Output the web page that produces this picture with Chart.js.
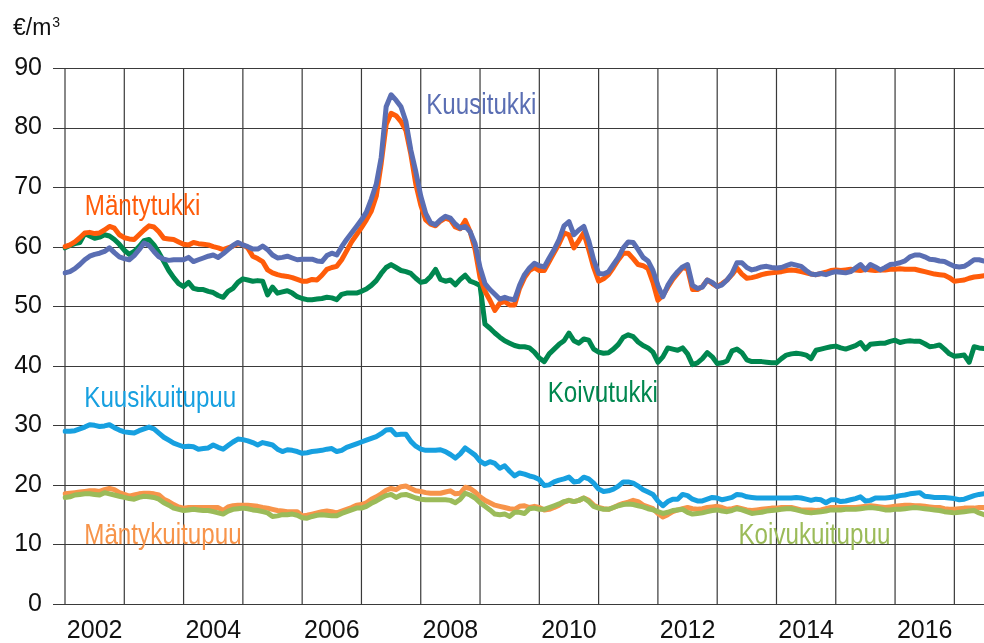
<!DOCTYPE html>
<html>
<head>
<meta charset="utf-8">
<script src="https://cdn.jsdelivr.net/npm/chart.js@4"></script>
<style>
  html, body { margin: 0; padding: 0; background: #fff; }
  #wrap { width: 984px; height: 643px; }
</style>
</head>
<body>
<div id="wrap"><canvas id="priceChart" width="984" height="643"></canvas></div>
<script>
// monthly prices, Jan 2002 - Jul 2017 (one row per year)
const kuusitukki = [
  55.6, 55.8, 56.3, 57.0, 57.8, 58.4, 58.7, 58.9, 59.2, 59.8, 59.0, 58.3,
  58.0, 57.8, 58.5, 59.5, 60.6, 60.2, 59.2, 58.3, 57.9, 57.7, 57.8, 57.8,
  57.8, 58.2, 57.5, 57.8, 58.1, 58.4, 58.6, 58.2, 58.8, 59.5, 60.2, 60.7,
  60.3, 60.0, 59.6, 59.6, 60.1, 59.5, 58.6, 58.1, 58.2, 58.4, 58.1, 57.8,
  57.9, 57.9, 57.9, 57.6, 57.5, 58.5, 58.9, 58.6, 60.0, 61.2, 62.3, 63.4,
  64.5, 65.8, 68.0, 70.5, 75.0, 83.5, 85.5, 84.6, 83.5, 81.0, 76.2, 72.6,
  68.5, 65.6, 64.0, 63.7, 64.5, 65.1, 64.8, 63.8, 63.1, 63.4, 62.5, 60.5,
  56.5, 53.8, 52.8, 52.0, 51.2, 51.5, 51.2, 51.1, 53.5, 55.3, 56.4, 57.2,
  56.8, 56.6, 58.1, 59.5, 61.2, 63.5, 64.2, 62.0, 62.8, 63.4, 61.0, 57.8,
  55.5, 55.4, 55.8, 57.0, 58.2, 59.8, 60.8, 60.7, 59.5, 58.2, 57.6, 56.0,
  53.5, 51.6, 53.5, 54.8, 55.8, 56.6, 57.0, 53.5, 53.0, 53.2, 54.4, 54.0,
  53.3, 53.6, 54.4, 55.5, 57.3, 57.3, 56.5, 56.1, 56.3, 56.6, 56.7, 56.5,
  56.4, 56.5, 56.8, 57.1, 56.9, 56.7, 56.0, 55.4, 55.3, 55.5, 55.3, 55.6,
  55.8, 55.7, 55.6, 55.8, 56.4, 57.0, 56.1, 57.0, 56.6, 56.1, 56.5, 57.0,
  57.1, 57.3, 57.6, 58.3, 58.6, 58.6, 58.3, 57.9, 57.8, 57.6, 57.5, 57.1,
  56.7, 56.6, 56.7, 57.2, 57.8, 57.8, 57.6
];
const mantytukki = [
  60.0, 60.3, 60.8, 61.5, 62.3, 62.4, 62.2, 62.3, 62.8, 63.4, 63.1, 62.0,
  61.5, 61.3, 61.2, 62.0, 62.8, 63.5, 63.3, 62.5, 61.4, 61.3, 61.2, 60.8,
  60.4, 60.3, 60.7, 60.5, 60.4, 60.3, 60.0, 59.8, 59.5, 59.8, 60.1, 60.5,
  60.3, 59.8, 58.4, 58.0, 57.5, 56.1, 55.6, 55.3, 55.1, 55.0, 54.8, 54.5,
  54.2, 54.2, 54.5, 54.4, 55.2, 56.2, 56.5, 56.7, 57.8, 59.3, 60.8, 62.0,
  63.2, 64.5, 66.0, 68.5, 74.0, 80.5, 82.4, 82.0, 81.0, 79.5, 75.5, 70.5,
  67.0, 64.5, 63.8, 63.5, 64.3, 64.8, 64.5, 63.3, 63.0, 64.4, 62.5, 59.5,
  54.8, 52.5, 51.0, 49.3, 50.5, 50.8, 50.2, 50.2, 53.0, 54.8, 56.0, 56.5,
  56.0, 56.0, 57.5, 59.0, 60.5, 62.3, 62.0, 59.8, 61.0, 62.3, 59.5, 56.5,
  54.2, 54.6, 55.3, 56.5, 57.8, 58.9, 58.9, 58.0, 57.0, 56.8, 56.3, 54.0,
  51.0, 51.8, 53.2, 54.5, 55.5, 56.5, 56.3, 52.8, 52.8, 53.3, 54.4, 53.8,
  53.3, 53.8, 54.4, 55.3, 56.4, 55.4, 54.7, 54.8, 55.0, 55.3, 55.5, 55.6,
  55.7, 55.8, 56.0, 56.1, 56.0, 55.8, 55.6, 55.4, 55.3, 55.5, 55.7, 56.0,
  56.1, 56.0, 56.1, 56.2, 56.1, 56.0, 56.2, 56.1, 56.0, 56.1, 56.1, 56.2,
  56.2, 56.3, 56.2, 56.2, 56.2, 56.0, 55.8, 55.6, 55.4, 55.3, 55.2, 54.8,
  54.2, 54.3, 54.4, 54.7, 54.9, 55.0, 55.1
];
const koivutukki = [
  59.8, 60.2, 60.5, 60.7, 62.2, 61.8, 61.4, 61.6, 62.0, 61.8, 61.2, 60.4,
  59.4, 58.7, 59.2, 60.0, 61.0, 61.2, 60.3, 59.0, 57.5, 56.0, 54.8, 53.8,
  53.3, 54.0, 53.0, 52.8, 52.8, 52.5, 52.3, 51.8, 51.5, 52.5, 53.0, 54.0,
  54.6, 54.4, 54.2, 54.3, 54.2, 51.9, 53.2, 52.2, 52.4, 52.6, 52.2, 51.6,
  51.3, 51.1, 51.1, 51.2, 51.3, 51.5, 51.4, 51.1, 52.0, 52.2, 52.2, 52.2,
  52.5, 52.9, 53.5, 54.3, 55.5, 56.5, 57.0, 56.5, 56.0, 55.8, 55.5, 54.7,
  54.0, 54.2, 55.0, 56.2, 54.5, 54.2, 54.4, 53.6, 54.5, 55.2, 54.2, 53.9,
  53.5, 47.0, 46.3, 45.5, 44.8, 44.2, 43.8, 43.4, 43.2, 43.2, 43.0, 42.3,
  41.3, 40.7, 42.0, 42.8, 43.6, 44.2, 45.5, 44.2, 43.8, 44.5, 44.3, 42.8,
  42.3, 42.1, 42.2, 42.8, 43.6, 44.8, 45.2, 44.9, 44.0, 43.4, 43.0, 42.3,
  40.6, 41.5, 43.0, 42.8, 42.6, 43.0, 42.0, 40.2, 40.5, 41.2, 42.2, 41.5,
  40.4, 40.5, 40.8, 42.5, 42.8, 42.2, 41.0, 40.7, 40.7, 40.7, 40.6, 40.5,
  40.5, 41.2, 41.8, 42.0, 42.1, 42.0, 41.8, 41.2, 42.6, 42.8, 43.0, 43.2,
  43.3, 43.0, 42.8, 43.1, 43.4, 43.9, 42.8, 43.6, 43.7, 43.8, 43.8, 44.1,
  44.3, 43.9, 44.1, 44.2, 44.1, 44.1, 43.7, 43.2, 43.3, 43.5, 42.8, 42.0,
  41.6, 41.7, 41.8, 40.6, 43.2, 43.0, 42.9
];
const kuusikuitupuu = [
  29.0, 29.0, 29.1, 29.4, 29.7, 30.1, 30.0, 29.8, 29.9, 30.1, 29.6, 29.2,
  28.9, 28.8, 28.7, 29.1, 29.4, 29.7, 29.4, 28.7, 28.0, 27.5, 27.0, 26.7,
  26.4, 26.5, 26.4, 26.0, 26.1, 26.2, 26.7, 26.3, 26.0, 26.6, 27.2, 27.7,
  27.6, 27.4, 27.1, 26.7, 27.1, 26.9, 26.7, 26.0, 25.6, 25.9, 25.8, 25.6,
  25.3, 25.4, 25.6, 25.7, 25.8, 26.0, 26.1, 25.6, 25.8, 26.3, 26.6, 26.9,
  27.2, 27.5, 27.8, 28.1, 28.6, 29.2, 29.3, 28.4, 28.5, 28.5, 27.3, 26.5,
  26.0, 25.8, 25.8, 25.8, 25.9, 25.6, 25.1, 24.5, 25.2, 26.2, 25.6, 25.0,
  24.0, 23.5, 23.9, 23.6, 22.8, 23.2, 22.3, 21.5, 22.0, 21.8, 21.5, 21.3,
  20.9, 19.9, 20.0, 20.5, 20.8, 21.0, 21.3, 20.5, 20.6, 21.3, 21.0, 20.3,
  19.3, 18.9, 19.0, 19.3, 19.8, 20.5, 20.5, 20.3, 19.8, 19.2, 18.8, 18.4,
  17.3, 16.5, 17.2, 17.6, 17.6, 18.4, 18.2, 17.6, 17.3, 17.3, 17.6, 17.9,
  17.8, 17.5, 17.7, 17.9, 18.4, 18.3, 18.0, 17.9, 17.8, 17.8, 17.8, 17.8,
  17.8, 17.8, 17.8, 17.8, 17.9, 17.8, 17.6, 17.4, 17.6, 17.5, 17.0, 17.5,
  17.5, 17.2, 17.3, 17.5, 17.7, 18.0, 17.3, 17.4, 17.8, 17.8, 17.8, 17.9,
  18.0, 18.2, 18.3, 18.5, 18.6, 18.7, 18.1, 18.0, 17.9, 17.9, 17.9, 17.8,
  17.7, 17.5, 17.6, 17.9, 18.2, 18.4, 18.5
];
const mantykuitupuu = [
  18.5, 18.6, 18.7, 18.8, 18.9, 19.0, 19.0, 18.9, 19.2, 19.4, 19.2, 18.7,
  18.4, 18.1, 18.3, 18.5, 18.6, 18.6, 18.5, 18.3, 17.6, 17.2, 16.7, 16.3,
  16.1, 16.2, 16.2, 16.2, 16.2, 16.2, 16.2, 16.2, 15.7, 16.3, 16.5, 16.6,
  16.6, 16.6, 16.5, 16.4, 16.2, 16.1, 15.9, 15.7, 15.6, 15.5, 15.5, 15.5,
  14.8, 14.9, 15.1, 15.3, 15.5, 15.6, 15.5, 15.3, 15.6, 15.9, 16.2, 16.6,
  16.7, 17.0, 17.6, 18.0, 18.5, 19.1, 19.4, 19.2, 19.7, 19.8, 19.4, 19.0,
  18.9, 18.7, 18.6, 18.6, 18.6, 18.8, 19.0, 18.5, 18.6, 19.6, 19.4, 18.8,
  18.0, 17.4, 17.0, 16.6, 16.4, 16.2, 16.0, 15.9, 16.4, 16.5, 16.2, 16.4,
  16.2, 15.8, 15.9, 16.2, 16.6, 17.1, 17.4, 17.2, 17.4, 17.8, 17.4, 16.6,
  16.2, 16.0, 15.9, 16.2, 16.6, 16.9, 17.1, 17.4, 17.2, 16.6, 16.3, 16.0,
  15.2, 14.6, 15.0, 15.5, 15.8, 16.0, 16.2, 16.0, 15.9, 16.0, 16.2, 16.3,
  16.4, 16.2, 15.9, 16.0, 16.2, 16.0, 15.8, 15.7, 15.8, 15.9, 16.0, 16.1,
  16.1, 16.2, 16.2, 16.2, 16.0, 15.8, 15.8, 15.8, 15.7, 15.8, 16.0, 16.2,
  16.2, 16.2, 16.2, 16.2, 16.2, 16.3, 16.4, 16.5, 16.4, 16.3, 16.2, 16.3,
  16.4, 16.5, 16.6, 16.6, 16.5, 16.5, 16.4, 16.3, 16.2, 16.2, 16.0, 15.9,
  15.9, 16.0, 16.1, 16.1, 16.1, 16.2, 16.2
];
const koivukuitupuu = [
  17.9, 18.0, 18.3, 18.4, 18.5, 18.5, 18.4, 18.3, 18.7, 18.5, 18.3, 18.1,
  17.9, 17.7, 17.6, 17.9, 18.1, 18.0, 17.9, 17.6, 17.0, 16.6, 16.1, 15.9,
  15.7, 15.8, 15.9, 15.8, 15.7, 15.7, 15.5, 15.3, 15.1, 15.6, 15.9, 16.0,
  16.1, 16.0, 15.8, 15.7, 15.5, 15.3, 14.7, 14.8, 15.0, 15.0, 15.1, 14.9,
  14.5, 14.4, 14.7, 14.9, 15.0, 14.9, 14.8, 14.8, 15.2, 15.5, 15.8, 16.1,
  16.1, 16.4, 16.9, 17.3, 17.8, 18.2, 18.4, 17.9, 18.3, 18.4, 18.1, 17.8,
  17.6, 17.5, 17.5, 17.5, 17.5, 17.5, 17.4, 17.0, 17.6, 18.6, 18.3, 17.8,
  17.0, 16.4, 15.8, 15.1, 15.0, 15.1, 14.7, 15.4, 15.4, 15.2, 16.0, 16.1,
  15.9, 15.9, 16.2, 16.5, 16.8, 17.2, 17.4, 17.2, 17.4, 17.8, 17.2, 16.4,
  16.1, 15.9, 15.9, 16.2, 16.5, 16.7, 16.8, 16.7, 16.5, 16.3, 16.0, 15.8,
  15.5, 15.2, 15.4, 15.7, 15.8, 15.9, 15.4, 15.1, 15.2, 15.3, 15.5, 15.7,
  15.8, 15.6, 15.5, 15.7, 16.0, 15.8, 15.5, 15.2, 15.3, 15.4, 15.6, 15.7,
  15.8, 15.9, 16.0, 16.0, 15.8, 15.6, 15.4, 15.3, 15.4, 15.5, 15.6, 15.8,
  15.8, 15.8, 15.9, 15.9, 15.9, 16.0, 16.1, 16.2, 16.1, 16.0, 15.8, 15.8,
  15.9, 15.9, 16.0, 16.1, 16.2, 16.1, 16.0, 15.9, 15.8, 15.7, 15.5, 15.4,
  15.3, 15.4, 15.5, 15.6, 15.7, 15.3, 15.0
];

// month categories 2002-01 ... 2017-07
const months = [];
for (let y = 2002; y <= 2017; y++) {
  for (let m = 1; m <= 12; m++) {
    if (months.length < kuusitukki.length) months.push(y + '-' + String(m).padStart(2, '0'));
  }
}

// text labels placed next to the lines (month index, value at text baseline)
const lineLabels = [
  { text: 'Kuusitukki', color: '#5a6eb3', at: 73.1, value: 82.2 },
  { text: 'Mäntytukki', color: '#ff5c0a', at: 4.0, value: 65.3 },
  { text: 'Koivutukki', color: '#00874f', at: 97.7, value: 34.0 },
  { text: 'Kuusikuitupuu', color: '#17a0e0', at: 3.9, value: 33.0 },
  { text: 'Mäntykuitupuu', color: '#f7944a', at: 3.9, value: 10.1 },
  { text: 'Koivukuitupuu', color: '#9bbb59', at: 136.3, value: 10.1 }
];

const gridColor = '#3a3a3a';

// grid: horizontal line per y tick (with a short tick to the left), vertical line every January
const gridPlugin = {
  id: 'yearGrid',
  beforeDatasetsDraw(chart) {
    const ctx = chart.ctx;
    const x = chart.scales.x, y = chart.scales.y;
    const area = chart.chartArea;
    ctx.save();
    ctx.strokeStyle = gridColor;
    ctx.lineWidth = 1.2;
    ctx.beginPath();
    y.ticks.forEach(t => {
      const py = Math.round(y.getPixelForValue(t.value)) + 0.5;
      ctx.moveTo(area.left - 12, py);
      ctx.lineTo(area.right, py);
    });
    months.forEach((m, i) => {
      if (m.endsWith('-01')) {
        const px = x.getPixelForValue(i);
        ctx.moveTo(px, area.top);
        ctx.lineTo(px, area.bottom);
      }
    });
    ctx.stroke();
    ctx.restore();
  }
};

const labelPlugin = {
  id: 'lineLabels',
  afterDatasetsDraw(chart) {
    const ctx = chart.ctx;
    const x = chart.scales.x, y = chart.scales.y;
    ctx.save();
    ctx.textBaseline = 'alphabetic';
    ctx.textAlign = 'left';
    lineLabels.forEach(l => {
      ctx.save();
      ctx.translate(x.getPixelForValue(l.at), y.getPixelForValue(l.value));
      ctx.scale(0.82, 1); // narrow face
      ctx.font = '29.5px "Liberation Sans", Arial, sans-serif';
      ctx.fillStyle = l.color;
      ctx.fillText(l.text, 0, 0);
      ctx.restore();
    });
    // unit
    ctx.fillStyle = '#111';
    ctx.font = '23px "Liberation Sans", Arial, sans-serif';
    ctx.fillText('€/m', 13, 35);
    const w = ctx.measureText('€/m').width;
    ctx.font = '14px "Liberation Sans", Arial, sans-serif';
    ctx.fillText('3', 13 + w + 1, 27);
    ctx.restore();
  }
};

Chart.defaults.font.family = '"Liberation Sans", Arial, sans-serif';
Chart.defaults.color = '#111';

function series(label, data, color) {
  return {
    label: label,
    data: data,
    borderColor: color,
    backgroundColor: color,
    borderWidth: 5,
    pointRadius: 0,
    tension: 0,
    borderJoinStyle: 'round',
    borderCapStyle: 'round',
    fill: false
  };
}

const ctx = document.getElementById('priceChart').getContext('2d');
new Chart(ctx, {
  type: 'line',
  data: {
    labels: months,
    // first dataset is drawn on top
    datasets: [
      series('Kuusitukki', kuusitukki, '#5a6eb3'),
      series('Mäntytukki', mantytukki, '#ff5c0a'),
      series('Koivutukki', koivutukki, '#00874f'),
      series('Kuusikuitupuu', kuusikuitupuu, '#17a0e0'),
      series('Koivukuitupuu', koivukuitupuu, '#9bbb59'),
      series('Mäntykuitupuu', mantykuitupuu, '#f7944a')
    ]
  },
  options: {
    responsive: false,
    animation: false,
    devicePixelRatio: 1,
    layout: { padding: { left: 14, top: 68, right: 0, bottom: 0 } },
    plugins: {
      legend: { display: false },
      tooltip: { enabled: false }
    },
    scales: {
      x: {
        type: 'category',
        offset: false,
        grid: { display: false, drawTicks: false },
        border: { display: false },
        afterFit: s => { s.height = 39; s.paddingLeft = 0; s.paddingRight = 0; },
        ticks: {
          autoSkip: false,
          maxRotation: 0,
          minRotation: 0,
          padding: 12,
          font: { size: 25 },
          callback: function(value, index) {
            const parts = months[index].split('-');
            return (parts[1] === '07' && Number(parts[0]) % 2 === 0) ? parts[0] : '';
          }
        }
      },
      y: {
        min: 0,
        max: 90,
        grid: { display: false, drawTicks: false },
        border: { display: false },
        afterFit: s => { s.width = 51; },
        ticks: {
          stepSize: 10,
          padding: 23,
          font: { size: 25 }
        }
      }
    }
  },
  plugins: [gridPlugin, labelPlugin]
});
</script>
</body>
</html>
